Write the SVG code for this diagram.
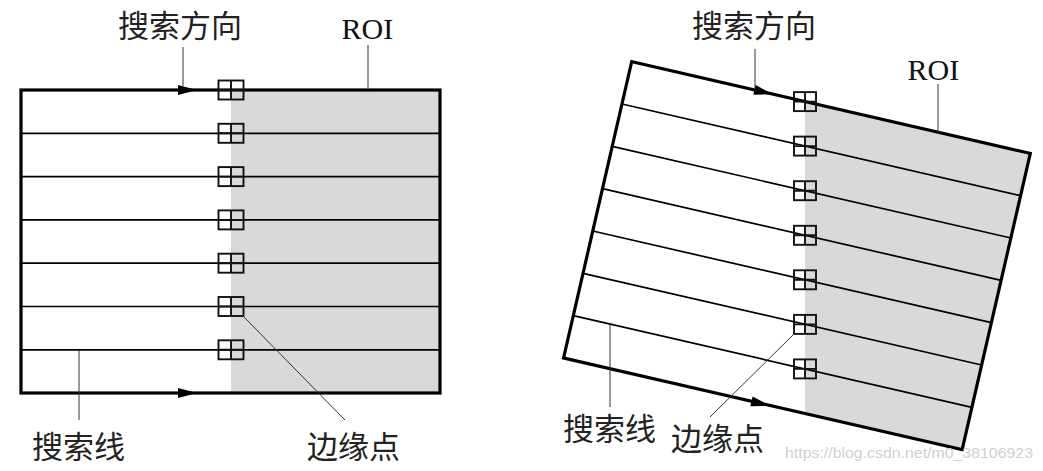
<svg xmlns="http://www.w3.org/2000/svg" xmlns:xlink="http://www.w3.org/1999/xlink" width="1043" height="471" viewBox="0 0 1043 471">
<style>
.frame{fill:none;stroke:#000;stroke-width:3.2;stroke-linejoin:miter}
.sl{stroke:#000;stroke-width:1.7;fill:none}
.box{fill:none;stroke:#111;stroke-width:1.9}
.lead{stroke:#333;stroke-width:1;fill:none}
.gray{fill:#d9d9d9}
.cjk{font-family:"Liberation Sans","Noto Sans CJK SC",sans-serif;font-size:31px;fill:#222}
.roi{font-family:"Liberation Serif",serif;font-size:30px;fill:#111}
.wm{font-family:"Liberation Sans",sans-serif;font-size:15px;fill:#cfcfcf}
</style>
<defs>
<path id="ah" d="M0,0 L-19,-5 L-19,5 Z" fill="#000"/>
<g id="bxL"><rect x="-12.5" y="-9.5" width="25" height="19" class="box"/><path d="M0,-9.5V9.5M-12.5,0H12.5" class="box"/></g>
<g id="bxR"><rect x="-11" y="-9.5" width="22" height="19" class="box"/><path d="M0,-9.5V9.5M-11,0H11" class="box"/></g>
</defs>

<g id="left-roi">
<rect x="231" y="90" width="209" height="303" class="gray"/>
<g id="left-lines">
<path class="sl" d="M21,133.3H440M21,176.6H440M21,219.9H440M21,263.2H440M21,306.5H440M21,349.8H440"/>
</g>
<rect x="21" y="90" width="419" height="303" class="frame"/>
<use xlink:href="#ah" href="#ah" transform="translate(197,90)"/>
<use xlink:href="#ah" href="#ah" transform="translate(197,393)"/>
</g>
<g id="left-edge-points">
<use xlink:href="#bxL" href="#bxL" transform="translate(231,90)"/>
<use xlink:href="#bxL" href="#bxL" transform="translate(231,133.3)"/>
<use xlink:href="#bxL" href="#bxL" transform="translate(231,176.6)"/>
<use xlink:href="#bxL" href="#bxL" transform="translate(231,219.9)"/>
<use xlink:href="#bxL" href="#bxL" transform="translate(231,263.2)"/>
<use xlink:href="#bxL" href="#bxL" transform="translate(231,306.5)"/>
<use xlink:href="#bxL" href="#bxL" transform="translate(231,349.8)"/>
</g>

<g id="right-roi">
<polygon class="gray" points="805,101.6 1030.3,153.4 962.2,449.6 805,413.5"/>
<g transform="translate(631.7,61.7) rotate(12.95)">
<path class="sl" d="M0,43.43H409M0,86.86H409M0,130.29H409M0,173.71H409M0,217.14H409M0,260.57H409"/>
<rect x="0" y="0" width="409" height="304" class="frame"/>
</g>
<use xlink:href="#ah" href="#ah" transform="translate(773,94.2) rotate(12.95)"/>
<use xlink:href="#ah" href="#ah" transform="translate(770,405.7) rotate(12.95)"/>
</g>
<g id="right-edge-points">
<use xlink:href="#bxR" href="#bxR" transform="translate(805,101.6)"/>
<use xlink:href="#bxR" href="#bxR" transform="translate(805,146.1)"/>
<use xlink:href="#bxR" href="#bxR" transform="translate(805,190.7)"/>
<use xlink:href="#bxR" href="#bxR" transform="translate(805,235.3)"/>
<use xlink:href="#bxR" href="#bxR" transform="translate(805,279.8)"/>
<use xlink:href="#bxR" href="#bxR" transform="translate(805,324.4)"/>
<use xlink:href="#bxR" href="#bxR" transform="translate(805,368.9)"/>
</g>

<g id="connectors">
<path class="lead" d="M183,47V86"/>
<path class="lead" d="M368,45V90"/>
<path class="lead" d="M79,350V420"/>
<path class="lead" d="M243,316L345,420"/>
<path class="lead" d="M755,49V89"/>
<path class="lead" d="M938,84V132"/>
<path class="lead" d="M610,324V407"/>
<path class="lead" d="M795,333L710,417"/>
</g>

<g id="labels">
<text class="cjk" x="118" y="37">搜索方向</text>
<text class="roi" x="341.5" y="38.5">ROI</text>
<text class="cjk" x="32" y="458">搜索线</text>
<text class="cjk" x="307" y="458">边缘点</text>
<text class="cjk" x="692" y="37">搜索方向</text>
<text class="roi" x="907.5" y="80">ROI</text>
<text class="cjk" x="563" y="440">搜索线</text>
<text class="cjk" x="671" y="450">边缘点</text>
<text class="wm" x="785" y="458" textLength="248" lengthAdjust="spacingAndGlyphs">https://blog.csdn.net/m0_38106923</text>
</g>
</svg>
